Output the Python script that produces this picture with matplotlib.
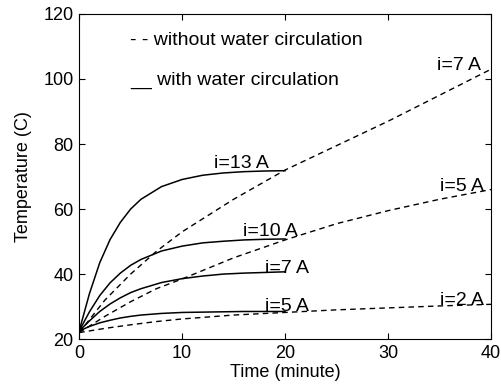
import numpy as np
import matplotlib
matplotlib.use('Agg')
import matplotlib.pyplot as plt

plt.rcParams['font.family'] = ['Liberation Sans', 'DejaVu Sans']

# with water circulation (solid), 0..20 minutes
t_on = [0, 1, 2, 3, 4, 5, 6, 8, 10, 12, 14, 16, 18, 20]
on_13A = [22.5, 34.0, 43.5, 50.6, 55.9, 60.0, 63.0, 66.9, 69.1, 70.4, 71.1, 71.5, 71.7, 71.8]
on_10A = [22.5, 28.4, 33.4, 37.3, 40.3, 42.7, 44.5, 47.1, 48.6, 49.6, 50.1, 50.5, 50.7, 50.8]
on_7A = [22.5, 25.6, 28.5, 30.8, 32.7, 34.3, 35.5, 37.4, 38.6, 39.4, 40.0, 40.3, 40.5, 40.7]
on_5A = [22.5, 23.9, 25.0, 25.8, 26.5, 27.0, 27.4, 27.9, 28.2, 28.3, 28.4, 28.5, 28.5, 28.5]

# without water circulation (dashed), 0..40 minutes
t_off = [0, 2.5, 5, 7.5, 10, 15, 20, 25, 30, 35, 40]
off_7A = [22, 32, 40, 47, 53, 63, 72, 79.5, 87, 95, 103]
off_5A = [22, 27, 31.5, 35.5, 38.5, 45, 50.5, 55.5, 59.5, 63, 66]
off_2A = [22, 23.3, 24.4, 25.4, 26.2, 27.4, 28.2, 29, 29.6, 30.2, 30.7]

# curve labels: (text, x, y of baseline)
labels = [('i=13 A', 13.1, 72.5), ('i=10 A', 15.9, 51.8), ('i=7 A', 18.05, 40.4),
          ('i=5 A', 18.05, 28.6), ('i=7 A', 34.8, 102.7), ('i=5 A', 35.0, 65.7),
          ('i=2 A', 35.0, 30.5)]

fig = plt.figure(figsize=(5.01, 3.88), dpi=100)
ax = fig.add_axes([0.158, 0.126, 0.822, 0.838])

for y in (on_13A, on_10A, on_7A, on_5A):
    ax.plot(t_on, y, 'k-', lw=1.1)
for y in (off_7A, off_5A, off_2A):
    ax.plot(t_off, y, 'k--', lw=1.0, dashes=(4, 3))

fs = 14
for txt, x, y in labels:
    ax.text(x, y, txt, fontsize=fs, va='baseline')

ax.text(4.95, 110.4, '- - without water circulation', fontsize=fs, va='baseline')
ax.text(4.95, 98.1, '__ with water circulation', fontsize=fs, va='baseline')

ax.set_xlim(0, 40)
ax.set_ylim(20, 120)
ax.set_xticks([0, 10, 20, 30, 40])
ax.set_yticks([20, 40, 60, 80, 100, 120])
ax.tick_params(direction='in', top=True, right=True, labelsize=13, length=4, pad=4)
ax.set_xlabel('Time (minute)', fontsize=13, labelpad=2)
ax.set_ylabel('Temperature (C)', fontsize=13, labelpad=8)

fig.savefig('out.png', dpi=100)
